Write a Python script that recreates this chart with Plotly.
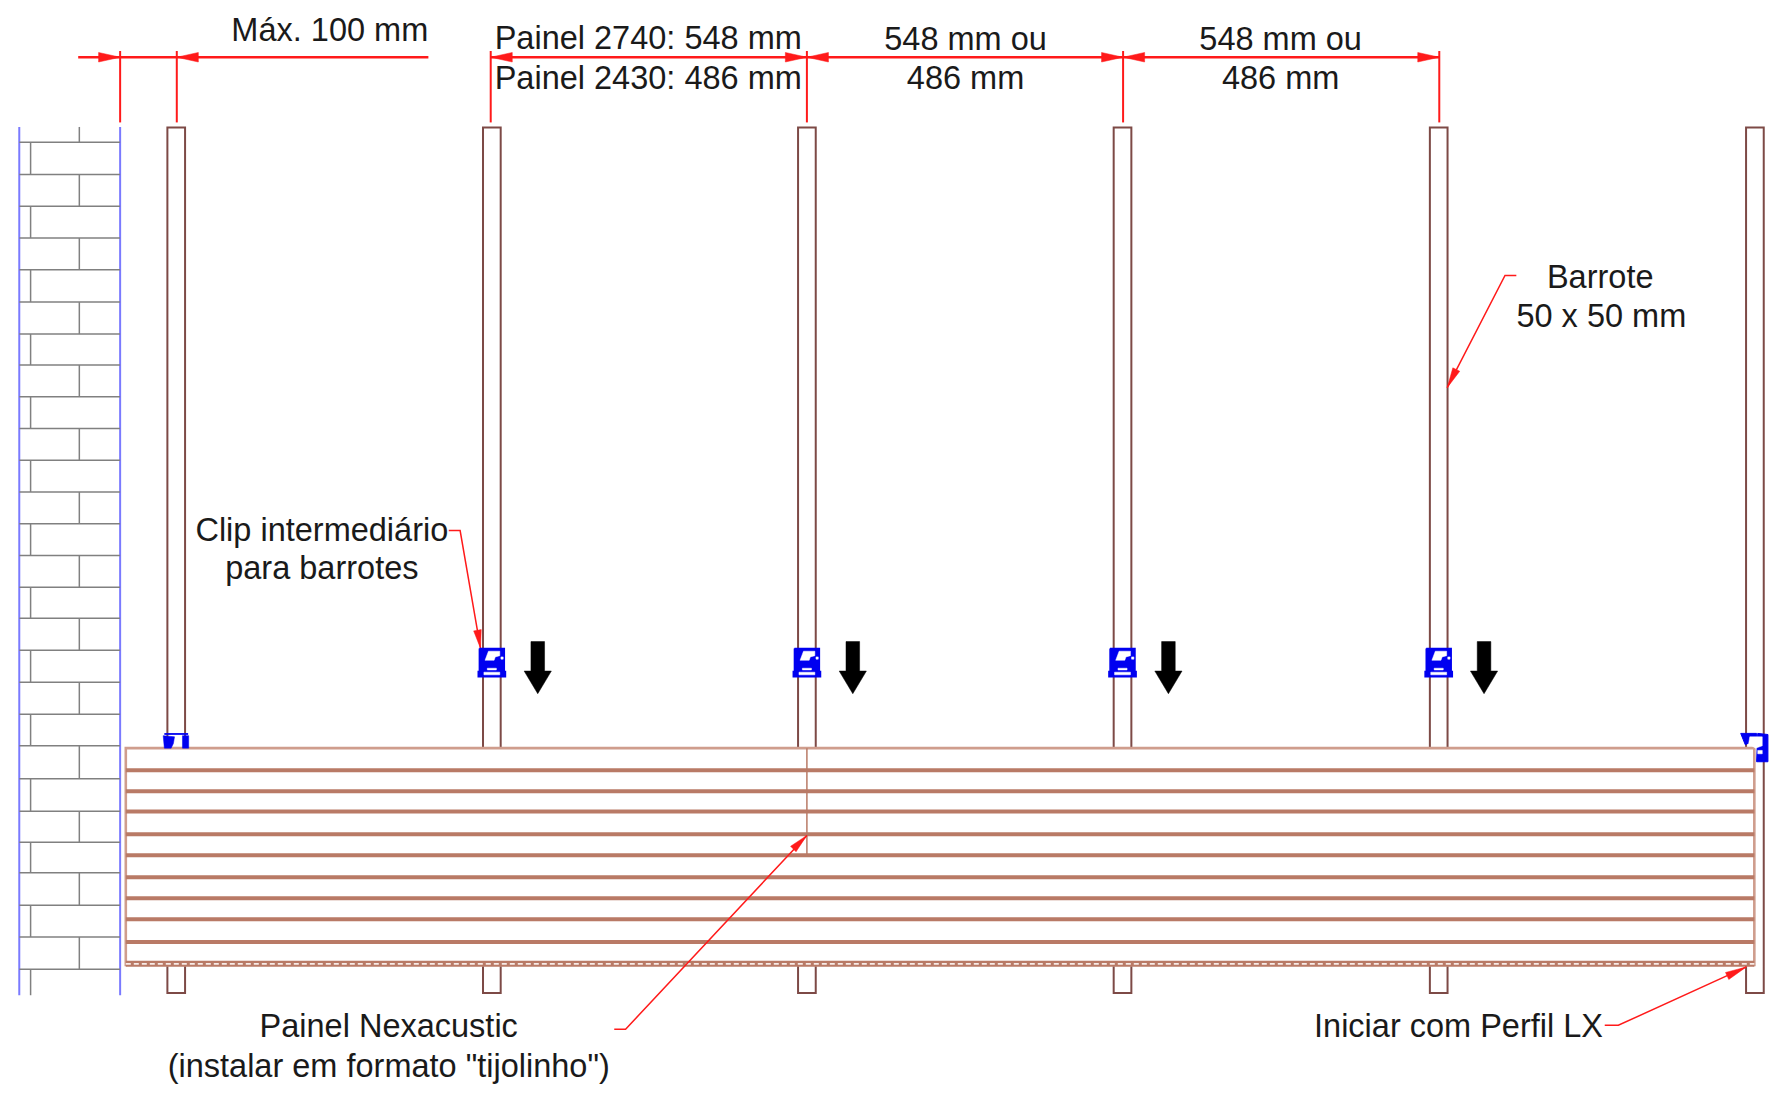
import plotly.graph_objects as go

STUD_X = [155.5, 434, 712, 990.5, 1269.5, 1548.5]
STUD_HALF = 7.8
STUD_TOP = 112.5
STUD_BOTTOM = 876
PANEL_LEFT = 111
PANEL_RIGHT = 1548
PANEL_TOP = 660
PANEL_BOTTOM = 852.5
PANEL_RIBS = [679.5, 698, 716, 736, 754.6, 774, 792.5, 811, 831]
PANEL_JOINT_X = 712
PANEL_JOINT_END = 754

WALL_X = [17, 106]
WALL_TOP = 112
WALL_BOTTOM = 878
BRICK_ROWS = [112, 125.6, 153.9, 182, 210, 238, 266.5, 294.7, 322, 350, 378, 406, 434,
              462, 490, 518, 545.5, 573.6, 601.8, 630, 658, 687, 715.6, 743, 770,
              798.5, 826.6, 855, 878]
BRICK_JOINTS = [70, 27]

DIM_Y = 50.5
DIM_EXT_TOP = 45
DIM_EXT_BOTTOM = 108
DIM_EXT_X = [106, 156, 433, 712, 991, 1270]
DIM_LINES = [(69, 378), (433, 1270)]
# (tip x, tail x)
DIM_ARROWS = [(106, 87), (156, 175), (433, 452), (712, 693), (712, 731),
              (991, 972), (991, 1010), (1270, 1251)]

LEADERS = [
    ([396, 406, 424], [468, 468, 572]),
    ([1338, 1328, 1277], [243, 243, 342]),
    ([542, 552, 712], [908, 908, 737]),
    ([1416, 1428, 1541], [904.5, 904.5, 853]),
]
LEADER_TAIL = [(421.3, 556), (1285, 326), (700, 749), (1524, 861)]

CLIP_X = [434, 712, 990.5, 1269.5]
CLIP_Y = 584.5
ARROW_X = [474.5, 752.5, 1031, 1309.5]

TEXT_X = [291, 572, 572, 852, 852, 1130, 1130, 1412, 1413, 284, 284, 343, 343, 1287]
TEXT_Y = [29, 36, 71, 37, 71, 37, 71, 247, 281, 470, 504, 908, 943, 908]
TEXT_S = ["Máx. 100 mm", "Painel 2740: 548 mm", "Painel 2430: 486 mm",
          "548 mm ou", "486 mm", "548 mm ou", "486 mm",
          "Barrote", "50 x 50 mm", "Clip intermediário", "para barrotes",
          "Painel Nexacustic", '(instalar em formato "tijolinho")', "Iniciar com Perfil LX"]

RED = "#ff1a1a"
BLUE = "#0000f0"
WALLBLUE = "#7a7aff"
GREY = "#808080"
STUD = "#7d4a46"
PANEL = "#b97a66"
PANEL_LIGHT = "#cf9d8d"

fig = go.Figure()


def polyline(segments, color, width, dash=None):
    xs, ys = [], []
    for sx, sy in segments:
        xs += list(sx) + [None]
        ys += list(sy) + [None]
    fig.add_trace(go.Scatter(x=xs, y=ys, mode="lines", hoverinfo="skip",
                             line=dict(color=color, width=width, dash=dash, simplify=False)))


def polyfill(polys, color, lw=0.5):
    xs, ys = [], []
    for sx, sy in polys:
        xs += list(sx) + [sx[0], None]
        ys += list(sy) + [sy[0], None]
    fig.add_trace(go.Scatter(x=xs, y=ys, mode="lines", fill="toself", fillcolor=color,
                             hoverinfo="skip", line=dict(color=color, width=lw)))


# wall
segs = [([x, x], [WALL_TOP, WALL_BOTTOM]) for x in WALL_X]
polyline(segs, WALLBLUE, 2)
segs = [([WALL_X[0], WALL_X[1]], [y, y]) for y in BRICK_ROWS[1:-1]]
for i in range(len(BRICK_ROWS) - 1):
    jx = BRICK_JOINTS[i % 2]
    segs.append(([jx, jx], [BRICK_ROWS[i], BRICK_ROWS[i + 1]]))
polyline(segs, GREY, 1.5)

# studs
segs = []
for x in STUD_X:
    l, r = x - STUD_HALF, x + STUD_HALF
    if x == STUD_X[-1]:
        segs.append(([l, l, r, r, l, l], [PANEL_TOP, STUD_TOP, STUD_TOP, STUD_BOTTOM, STUD_BOTTOM, PANEL_BOTTOM]))
    else:
        segs.append(([l, l, r, r], [PANEL_TOP, STUD_TOP, STUD_TOP, PANEL_TOP]))
        segs.append(([l, l, r, r], [PANEL_BOTTOM, STUD_BOTTOM, STUD_BOTTOM, PANEL_BOTTOM]))
polyline(segs, STUD, 2)

# panel
polyline([([PANEL_LEFT, PANEL_LEFT, PANEL_RIGHT, PANEL_RIGHT],
           [PANEL_BOTTOM, PANEL_TOP, PANEL_TOP, PANEL_BOTTOM])], PANEL_LIGHT, 2.6)
polyline([([PANEL_LEFT, PANEL_RIGHT], [y, y]) for y in PANEL_RIBS], PANEL, 4)
polyline([([PANEL_JOINT_X, PANEL_JOINT_X], [PANEL_TOP, PANEL_JOINT_END])], PANEL, 1.5)
polyline([([PANEL_LEFT, PANEL_RIGHT], [PANEL_BOTTOM - 2.2, PANEL_BOTTOM - 2.2])], PANEL, 6)
polyline([([PANEL_LEFT, PANEL_RIGHT], [PANEL_BOTTOM - 2.2, PANEL_BOTTOM - 2.2])], "#f8ece8", 1.6, "5px,3px")

# dimensions
polyline([([x, x], [DIM_EXT_TOP, DIM_EXT_BOTTOM]) for x in DIM_EXT_X], RED, 2)
polyline([(list(s), [DIM_Y, DIM_Y]) for s in DIM_LINES], RED, 2.4)
polyfill([([tip, tail, tail], [DIM_Y, DIM_Y - 4.2, DIM_Y + 4.2]) for tip, tail in DIM_ARROWS], RED)

# leaders
polyline(LEADERS, RED, 1.5)
arrows = []
for (lx, ly), (tx, ty) in zip(LEADERS, LEADER_TAIL):
    px, py = lx[-1], ly[-1]
    dx, dy = px - tx, py - ty
    n = (dx * dx + dy * dy) ** 0.5
    ox, oy = -dy / n * 3.4, dx / n * 3.4
    arrows.append(([px, tx + ox, tx - ox], [py, ty + oy, ty - oy]))
polyfill(arrows, RED)

# clips
CLIP_BODY_X = [-11, 11, 11, 12, 12, -12, -12, -11]
CLIP_BODY_Y = [-12.5, -12.5, 8, 8, 12.5, 12.5, 8, 8]
CLIP_WHITE = [([-3, 7, 7, 3, 2, -6], [-10, -10, -6, -5, -2, -2]),
              ([8, 10, 10, 8], [-5, -5, -3, -3]),
              ([-4, 4, 4, -4], [5, 5, 6.5, 6.5]),
              ([-7, 7, 7, -7], [8.5, 8.5, 10.8, 10.8])]
polyfill([([c + v for v in CLIP_BODY_X], [CLIP_Y + v for v in CLIP_BODY_Y]) for c in CLIP_X], BLUE, 1.5)
polyfill([([c + v for v in px], [CLIP_Y + v for v in py]) for c in CLIP_X for px, py in CLIP_WHITE], "#ffffff")

# partial clip on the first stud
polyfill([([144, 154, 153, 151, 145], [649, 650, 656, 660, 660]),
          ([161, 166.5, 166.5, 161], [649, 649, 660, 660])], BLUE)
polyline([([145, 166], [647.5, 647.5])], BLUE, 1.8)

# clip on the last stud
polyfill([([1551, 1560, 1560, 1550], [647, 648, 672, 672]),
          ([1536, 1550, 1550, 1540], [647, 647, 652, 657])], BLUE, 1)
polyfill([([1544, 1555, 1555, 1549, 1543], [650, 650, 658, 660, 656])], "#ffffff")
polyfill([([1551, 1555, 1555, 1551], [662, 662, 665, 665])], "#ffffff")

# black arrows
SHAFT_X = [-6, 6, 6, 12, 0, -12, -6]
SHAFT_Y = [566, 566, 592, 592, 612, 592, 592]
polyfill([([c + v for v in SHAFT_X], SHAFT_Y) for c in ARROW_X], "#000000")

# text
fig.add_trace(go.Scatter(x=TEXT_X, y=TEXT_Y, text=TEXT_S, mode="text", hoverinfo="skip",
                         textposition="middle center",
                         textfont=dict(family="Liberation Sans", size=32.5, color="#1a1a1a")))

fig.update_layout(
    width=1777, height=1095, margin=dict(l=0, r=0, t=0, b=0),
    paper_bgcolor="white", plot_bgcolor="white", showlegend=False,
    xaxis=dict(range=[0, 1568], visible=False, fixedrange=True),
    yaxis=dict(range=[966, 0], visible=False, fixedrange=True),
)
fig.write_html("out.html", post_script="document.body.style.margin='0';",
               config={"displayModeBar": False})
